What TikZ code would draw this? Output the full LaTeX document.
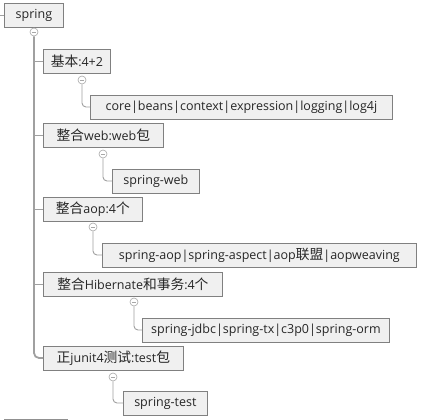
\documentclass[tikz,border=0pt]{standalone}
\usepackage{fontspec}
\setmainfont{Open Sans}
\newfontfamily\cjk{Noto Sans CJK SC}[Scale=1.1]
\begin{document}
\begin{tikzpicture}[x=1pt,y=-1pt,
  box/.style={draw=boxline,fill=boxfill,line width=0.8pt,anchor=west,minimum height=24pt,inner sep=0pt,font=\fontsize{12.5pt}{15pt}\selectfont,text=black!85},
  trunk/.style={draw=linegray,line width=1.8pt},
  conn/.style={draw=linegray,line width=0.9pt,rounded corners=4pt},
  toggle/.style={circle,draw=togglegray,fill=white,line width=0.6pt,minimum size=8pt,inner sep=0pt,
    path picture={\draw[togglegray,line width=0.6pt] ([xshift=-2.2pt]path picture bounding box.center) -- ([xshift=2.2pt]path picture bounding box.center);}}]
\definecolor{boxline}{HTML}{808080}
\definecolor{boxfill}{HTML}{F0F0F0}
\definecolor{linegray}{HTML}{A0A0A0}
\definecolor{togglegray}{HTML}{A8A8A8}
\useasboundingbox (0,0) rectangle (448,420);
\fill[white] (0,0) rectangle (448,420);
% nodes
\node[box,minimum width=59pt] (root) at (4,15) {spring};
\node[box,minimum width=67pt] (a) at (43,61) {{\cjk 基本}:4+2};
\node[box,minimum width=302pt] (ac) at (90,107) {core|beans|context|expression|logging|log4j};
\node[box,minimum width=120pt] (b) at (43,135) {{\cjk 整合}web:web{\cjk 包}};
\node[box,minimum width=87pt] (bc) at (112,181) {spring-web};
\node[box,minimum width=99pt] (c) at (43,209) {{\cjk 整合}aop:4{\cjk 个}};
\node[box,minimum width=314pt] (cc) at (102,255) {spring-aop|spring-aspect|aop{\cjk 联盟}|aopweaving};
\node[box,minimum width=179pt] (d) at (43,284) {{\cjk 整合}Hibernate{\cjk 和事务}:4{\cjk 个}};
\node[box,minimum width=247pt] (dc) at (142,330) {spring-jdbc|spring-tx|c3p0|spring-orm};
\node[box,minimum width=140pt] (e) at (43,358) {{\cjk 正}junit4{\cjk 测试}:test{\cjk 包}};
\node[box,minimum width=84pt] (ec) at (123,403) {spring-test};
% toggles
\node[toggle] (rt) at (34,32) {};
\node[toggle] (at) at (82,80) {};
\node[toggle] (bt) at (103,154) {};
\node[toggle] (ct) at (93,227) {};
\node[toggle] (dt) at (134,302) {};
\node[toggle] (et) at (113,377) {};
% left stub
\coordinate (stub) at (0,15);
\draw[draw=linegray,line width=0.9pt] (stub) -- (root.west);
% trunk
\draw[trunk,rounded corners=5pt] (rt.south) |- (e.west);
\foreach \n in {a,b,c,d} \draw[conn] (rt.south |- \n.west) -- (\n.west);
% sub connectors
\draw[conn] (at.south) |- (ac.west);
\draw[conn] (bt.south) |- (bc.west);
\draw[conn] (ct.south) |- (cc.west);
\draw[conn] (dt.south) |- (dc.west);
\draw[conn] (et.south) |- (ec.west);
% bottom rule
\draw[draw=linegray!90!black,line width=1pt] (4,419) -- (68,419);
\end{tikzpicture}
\end{document}
